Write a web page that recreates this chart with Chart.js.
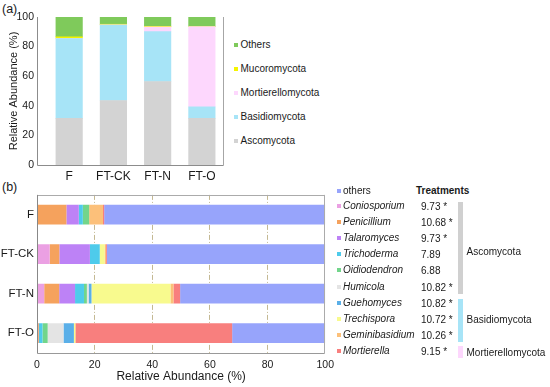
<!DOCTYPE html>
<html>
<head>
<meta charset="utf-8">
<script src="https://cdn.jsdelivr.net/npm/chart.js@4.4.1/dist/chart.umd.min.js"></script>
<style>
	body { margin: 0; width: 550px; height: 387px; background: #fff; position: relative; overflow: hidden; font-family: "Liberation Sans", Arial, sans-serif; color: #1a1a1a; }
	canvas { position: absolute; }
	#chart-a { left: 0; top: 0; }
	#chart-b { left: 0; top: 185px; }
	.tag { position: absolute; font-size: 12.5px; line-height: 14px; }
	.row { position: absolute; font-size: 10px; line-height: 12px; white-space: nowrap; }
	.row .box { position: absolute; width: 4px; height: 4px; top: 4px; }
	.row .num { position: absolute; }
	.bracket { position: absolute; width: 4.5px; left: 458.3px; }
	.group { position: absolute; left: 466.5px; font-size: 10px; line-height: 12px; white-space: nowrap; }
</style>
</head>
<body>
<div class="tag" style="left:2px; top:2px;">(a)</div>
<div class="tag" style="left:2px; top:180px;">(b)</div>
<canvas id="chart-a" width="232" height="185"></canvas>
<canvas id="chart-b" width="340" height="202"></canvas>
<div id="legend-a"></div>
<div id="legend-b"></div>
<script>
	// panel (a): phylum level
	const groups = ['F', 'FT-CK', 'FT-N', 'FT-O'];
	const ascomycota = [31.5, 43.6, 56.4, 31.5];
	const basidiomycota = [53.9, 51.0, 33.7, 7.8];
	const mortierellomycota = [0.1, 0.1, 3.2, 54.2];
	const mucoromycota = [1.1, 0.4, 0.4, 0.1];
	const othersPhylum = [13.4, 4.9, 6.3, 6.4];
	const abundanceTicks = [0, 20, 40, 60, 80, 100];

	// panel (b): genus level
	const coniosporium = [0, 4.4, 2.5, 0];
	const penicillium = [10.2, 3.35, 5.2, 0.6];
	const talaromyces = [4.3, 10.6, 5.5, 0.1];
	const trichoderma = [1.4, 3.4, 3.1, 1.2];
	const oidiodendron = [2.2, 0.1, 1.0, 1.8];
	const humicola = [0, 0, 0.6, 5.5];
	const guehomyces = [0, 0, 1.0, 3.6];
	const trechispora = [0, 1.6, 27.4, 0.4];
	const geminibasidium = [4.8, 0.5, 1.05, 0.2];
	const mortierella = [0.4, 0.3, 2.3, 54.3];
	const othersGenus = [76.7, 75.75, 50.35, 32.3];
	const treatmentValues = ['9.73 *', '10.68 *', '9.73 *', '7.89', '6.88', '10.82 *', '10.82 *', '10.72 *', '10.26 *', '9.15 *'];

	const font = '"Liberation Sans", Arial, sans-serif';

	const phyla = [
		{ label: 'Ascomycota', data: ascomycota, color: '#d3d3d3' },
		{ label: 'Basidiomycota', data: basidiomycota, color: '#a7e4f7' },
		{ label: 'Mortierellomycota', data: mortierellomycota, color: '#fdd7fd' },
		{ label: 'Mucoromycota', data: mucoromycota, color: '#f4f400' },
		{ label: 'Others', data: othersPhylum, color: '#7fca5b' }
	];

	const genera = [
		{ label: 'Coniosporium', data: coniosporium, color: '#eba0e3' },
		{ label: 'Penicillium', data: penicillium, color: '#f5a25d' },
		{ label: 'Talaromyces', data: talaromyces, color: '#bd82f6' },
		{ label: 'Trichoderma', data: trichoderma, color: '#4ecbeb' },
		{ label: 'Oidiodendron', data: oidiodendron, color: '#72d58b' },
		{ label: 'Humicola', data: humicola, color: '#e4e4e4' },
		{ label: 'Guehomyces', data: guehomyces, color: '#5aafe8' },
		{ label: 'Trechispora', data: trechispora, color: '#f8fa8e' },
		{ label: 'Geminibasidium', data: geminibasidium, color: '#fcc07a' },
		{ label: 'Mortierella', data: mortierella, color: '#f87f7e' },
		{ label: 'others', data: othersGenus, color: '#97a4fb' }
	];

	// plain frame lines round the plot area
	const framePlugin = {
		id: 'frame',
		afterDatasetsDraw(chart, args, opts) {
			const ctx = chart.ctx;
			const a = chart.chartArea;
			const l = Math.round(a.left) + 0.5;
			const r = Math.round(a.right) - 0.5;
			const t = Math.round(a.top) + 0.5;
			const b = Math.round(a.bottom) + 0.5;
			const lines = {
				left: [l, a.top, l, b],
				bottom: [l, b, r, b],
				right: [r, a.top, r, b],
				top: [l, t, r, t]
			};

			ctx.save();
			ctx.lineWidth = 1;
			Object.keys(opts.sides || {}).forEach(function (side) {
				const p = lines[side];
				ctx.strokeStyle = opts.sides[side];
				ctx.beginPath();
				ctx.moveTo(p[0], p[1]);
				ctx.lineTo(p[2], p[3]);
				ctx.stroke();
			});
			ctx.restore();
		}
	};

	new Chart(document.getElementById('chart-a'), {
		type: 'bar',
		plugins: [framePlugin],
		data: {
			datasets: phyla.map(function (p) {
				return {
					label: p.label,
					data: p.data.map(function (v, i) { return { x: i, y: v }; }),
					backgroundColor: p.color,
					borderWidth: 0,
					barThickness: 26.5
				};
			})
		},
		options: {
			responsive: false,
			animation: false,
			layout: { padding: { top: 17, right: 8, left: 0, bottom: 0 } },
			plugins: {
				legend: { display: false },
				tooltip: { enabled: false },
				frame: { sides: { left: '#8c8c8c', bottom: '#8c8c8c', right: '#a6a6a6' } }
			},
			scales: {
				x: {
					type: 'linear',
					stacked: true,
					offset: false,
					min: -0.727,
					max: 3.5,
					afterBuildTicks: function (scale) {
						scale.ticks = groups.map(function (g, i) { return { value: i }; });
					},
					afterFit: function (scale) { scale.height = 20; },
					grid: { display: false, drawTicks: false, offset: false },
					border: { display: false },
					ticks: {
						padding: 4,
						maxRotation: 0,
						autoSkip: false,
						color: '#1a1a1a',
						font: { family: font, size: 12 },
						callback: function (value) { return groups[value]; }
					}
				},
				y: {
					stacked: true,
					min: 0,
					max: 100,
					afterBuildTicks: function (scale) {
						scale.ticks = abundanceTicks.map(function (v) { return { value: v }; });
					},
					afterFit: function (scale) { scale.width = 37; },
					grid: { display: false, drawTicks: false },
					border: { display: false },
					ticks: { padding: 3, color: '#1a1a1a', font: { family: font, size: 10.5 } },
					title: {
						display: true,
						text: 'Relative Abundance (%)',
						color: '#1a1a1a',
						font: { family: font, size: 11 },
						padding: { top: 7, bottom: 0 }
					}
				}
			}
		}
	});

	new Chart(document.getElementById('chart-b'), {
		type: 'bar',
		plugins: [framePlugin],
		data: {
			labels: groups,
			datasets: genera.map(function (g) {
				return {
					label: g.label,
					data: g.data,
					backgroundColor: g.color,
					borderWidth: 0,
					barPercentage: 0.5,
					categoryPercentage: 1
				};
			})
		},
		options: {
			indexAxis: 'y',
			responsive: false,
			animation: false,
			layout: { padding: { top: 4, right: 14, left: 0, bottom: 0 } },
			plugins: {
				legend: { display: false },
				tooltip: { enabled: false },
				frame: { sides: { top: '#ababab', right: '#ababab', bottom: '#999999', left: '#888888' } }
			},
			scales: {
				x: {
					stacked: true,
					min: 0,
					max: 100,
					afterBuildTicks: function (scale) {
						scale.ticks = abundanceTicks.map(function (v) { return { value: v }; });
					},
					afterFit: function (scale) { scale.height = 34; },
					grid: {
						drawTicks: false,
						lineWidth: 1,
						color: function (ctx) {
							const v = ctx.tick ? ctx.tick.value : 0;
							return v === 0 || v === 100 ? 'rgba(0,0,0,0)' : '#c4b993';
						}
					},
					border: { display: false, dash: [5, 2, 1, 2] },
					ticks: { padding: 6, color: '#1a1a1a', font: { family: font, size: 10.5 } },
					title: {
						display: true,
						text: 'Relative Abundance (%)',
						color: '#1a1a1a',
						font: { family: font, size: 12 },
						padding: { top: 0, bottom: 3 }
					}
				},
				y: {
					stacked: true,
					afterFit: function (scale) { scale.width = 37; },
					grid: { display: false, drawTicks: false },
					border: { display: false },
					ticks: { padding: 3, color: '#1a1a1a', font: { family: font, size: 11.5 } }
				}
			}
		}
	});

	// legend (a), top entry first
	const legendA = document.getElementById('legend-a');
	phyla.slice().reverse().forEach(function (p, k) {
		const row = document.createElement('div');
		row.className = 'row';
		row.style.left = '234px';
		row.style.top = (45 + 24 * k - 6) + 'px';
		row.innerHTML = '<span class="box" style="left:0;background:' + p.color + '"></span>' +
			'<span style="margin-left:6.5px">' + p.label + '</span>';
		legendA.appendChild(row);
	});

	// legend (b) with the Treatments column
	const legendB = document.getElementById('legend-b');
	const head = document.createElement('div');
	head.className = 'row';
	head.style.left = '416px';
	head.style.top = '184.5px';
	head.style.fontWeight = 'bold';
	head.textContent = 'Treatments';
	legendB.appendChild(head);

	const rowsB = [genera[genera.length - 1]].concat(genera.slice(0, genera.length - 1));
	rowsB.forEach(function (g, k) {
		const row = document.createElement('div');
		const top = (k === 0 ? 191 : 206 + 16.1 * (k - 1)) - 6;
		row.className = 'row';
		row.style.left = '336.5px';
		row.style.top = top + 'px';
		row.innerHTML = '<span class="box" style="left:0;background:' + g.color + '"></span>' +
			'<span style="margin-left:6.5px;' + (k === 0 ? '' : 'font-style:italic') + '">' + g.label + '</span>' +
			(k === 0 ? '' : '<span class="num" style="left:84.5px;top:1px">' + treatmentValues[k - 1] + '</span>');
		legendB.appendChild(row);
	});

	const brackets = [
		{ text: 'Ascomycota', color: '#d0d0d0', top: 202.3, bottom: 294, mid: 252.3 },
		{ text: 'Basidiomycota', color: '#a7e4f7', top: 299, bottom: 341.7, mid: 320 },
		{ text: 'Mortierellomycota', color: '#fdd7fd', top: 346, bottom: 358.3, mid: 352.5 }
	];
	brackets.forEach(function (b) {
		const bar = document.createElement('div');
		bar.className = 'bracket';
		bar.style.top = b.top + 'px';
		bar.style.height = (b.bottom - b.top) + 'px';
		bar.style.background = b.color;
		legendB.appendChild(bar);

		const label = document.createElement('div');
		label.className = 'group';
		label.style.top = (b.mid - 6) + 'px';
		label.textContent = b.text;
		legendB.appendChild(label);
	});
</script>
</body>
</html>
